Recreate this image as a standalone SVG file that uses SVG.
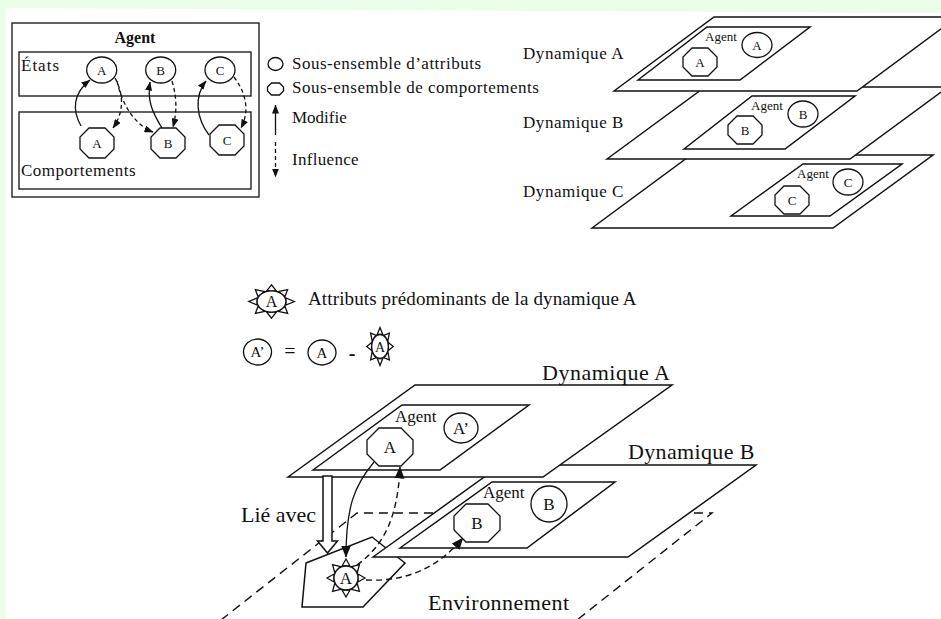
<svg xmlns="http://www.w3.org/2000/svg" xmlns:xlink="http://www.w3.org/1999/xlink" width="941" height="619" viewBox="0 0 941 619">
<defs>
<style>
.t{font-family:"Liberation Serif","Times New Roman",serif;fill:#111}
.m{text-anchor:middle}
.box{fill:none;stroke:#222;stroke-width:1.4}
.pl{fill:#fff;stroke:#111;stroke-width:1.5}
.sh{fill:#fff;stroke:#111;stroke-width:1.3}
.c{fill:none;stroke:#111;stroke-width:1.3}
.cd{fill:none;stroke:#111;stroke-width:1.3;stroke-dasharray:4 3}
.cdl{fill:none;stroke:#111;stroke-width:1.4;stroke-dasharray:6 4}
.env{fill:none;stroke:#111;stroke-width:1.4;stroke-dasharray:9 6}
</style>
<marker id="ah" viewBox="0 0 9 7" refX="8.5" refY="3.5" markerWidth="9" markerHeight="7" markerUnits="userSpaceOnUse" orient="auto"><path d="M0,0 L9,3.5 L0,7 z" fill="#111"/></marker>
<marker id="ahL" viewBox="0 0 12 10" refX="11.5" refY="5" markerWidth="12" markerHeight="10" markerUnits="userSpaceOnUse" orient="auto"><path d="M0,0 L12,5 L0,10 z" fill="#111"/></marker>
<polygon id="octS" points="-8,-15 8,-15 17,-6 17,6 8,15 -8,15 -17,6 -17,-6"/>
<polygon id="octM" points="-8,-14 8,-14 17,-5 17,5 8,14 -8,14 -17,5 -17,-5"/>
<polygon id="octL" points="-11,-19 11,-19 23,-7 23,7 11,19 -11,19 -23,7 -23,-7"/>
<polygon id="octXS" points="-4,-6 4,-6 8,-2 8,2 4,6 -4,6 -8,2 -8,-2"/>
<g id="sun" fill="#fff" stroke="#111" stroke-width="1.3">
<polygon vector-effect="non-scaling-stroke" points="19,0 12,-4 12,4"/>
<polygon vector-effect="non-scaling-stroke" points="13.4,13.4 11.3,5.6 5.6,11.3"/>
<polygon vector-effect="non-scaling-stroke" points="0,19 4,12 -4,12"/>
<polygon vector-effect="non-scaling-stroke" points="-13.4,13.4 -5.6,11.3 -11.3,5.6"/>
<polygon vector-effect="non-scaling-stroke" points="-19,0 -12,4 -12,-4"/>
<polygon vector-effect="non-scaling-stroke" points="-13.4,-13.4 -11.3,-5.6 -5.6,-11.3"/>
<polygon vector-effect="non-scaling-stroke" points="0,-19 -4,-12 4,-12"/>
<polygon vector-effect="non-scaling-stroke" points="13.4,-13.4 5.6,-11.3 11.3,-5.6"/>
<circle vector-effect="non-scaling-stroke" r="12"/>
</g>
</defs>

<rect x="0" y="0" width="941" height="619" fill="#eafde8"/>
<polygon points="6,8 941,13 941,619 6,619" fill="#fff"/>

<!-- Agent box -->
<g id="agent-box">
<rect class="box" x="12" y="23" width="247" height="174" stroke-width="1.8"/>
<text class="t m" x="135" y="43" font-size="16" font-weight="bold">Agent</text>
</g>
<g id="etats">
<rect class="box" x="19" y="52" width="232" height="44"/>
<text class="t" x="21" y="71" font-size="17" letter-spacing="1">États</text>
</g>
<g id="comportements">
<rect class="box" x="19" y="112" width="232" height="77"/>
<text class="t" x="21" y="176" font-size="17" letter-spacing="0.5">Comportements</text>
</g>
<g id="etat-A"><ellipse class="sh" cx="101.7" cy="70" rx="15" ry="13"/><text class="t m" x="101.7" y="74.5" font-size="13">A</text></g>
<g id="etat-B"><ellipse class="sh" cx="160.7" cy="70" rx="15" ry="13"/><text class="t m" x="160.7" y="74.5" font-size="13">B</text></g>
<g id="etat-C"><ellipse class="sh" cx="220" cy="70" rx="15" ry="13"/><text class="t m" x="220" y="74.5" font-size="13">C</text></g>
<g id="comp-A"><use xlink:href="#octS" href="#octS" class="sh" x="97" y="143"/><text class="t m" x="97" y="147.5" font-size="13">A</text></g>
<g id="comp-B"><use xlink:href="#octS" href="#octS" class="sh" x="168" y="143"/><text class="t m" x="168" y="147.5" font-size="13">B</text></g>
<g id="comp-C"><use xlink:href="#octS" href="#octS" class="sh" x="227" y="140"/><text class="t m" x="227" y="144.5" font-size="13">C</text></g>

<!-- Legend -->
<g id="legend-attributs">
<ellipse class="sh" cx="275.5" cy="64" rx="7.5" ry="6.5"/>
<text class="t" x="292" y="69" font-size="17" letter-spacing="0.5">Sous-ensemble d’attributs</text>
</g>
<g id="legend-comportements">
<use xlink:href="#octXS" href="#octXS" class="sh" x="275.5" y="89"/>
<text class="t" x="292" y="93" font-size="17" letter-spacing="0.5">Sous-ensemble de comportements</text>
</g>
<g id="legend-modifie">
<line class="c" x1="275.5" y1="135" x2="275.5" y2="105" marker-end="url(#ah)"/>
<text class="t" x="292" y="123" font-size="17">Modifie</text>
</g>
<g id="legend-influence">
<line class="cd" x1="275.5" y1="142" x2="275.5" y2="177" marker-end="url(#ah)"/>
<text class="t" x="292" y="165" font-size="17" letter-spacing="0.3">Influence</text>
</g>

<!-- Top right stacked dynamics -->
<g id="dyn-C">
<polygon class="pl" points="592,228 691,155 933,155 833,228"/>
<polygon class="pl" points="731,216 803,164 902,164 830,216"/>
<text class="t" x="797" y="178" font-size="13">Agent</text>
<ellipse class="sh" cx="848" cy="182" rx="15" ry="13"/><text class="t m" x="848" y="186.5" font-size="13">C</text>
<use xlink:href="#octM" href="#octM" class="sh" x="792" y="200"/><text class="t m" x="792" y="204.5" font-size="13">C</text>
</g>
<g id="dyn-B">
<polygon class="pl" points="607,159 705,87 948,87 850,159"/>
<polygon class="pl" points="684,149 752,96 855,96 785,149"/>
<text class="t" x="751" y="110" font-size="13">Agent</text>
<ellipse class="sh" cx="803" cy="114" rx="15" ry="13"/><text class="t m" x="803" y="118.5" font-size="13">B</text>
<use xlink:href="#octM" href="#octM" class="sh" x="745" y="130"/><text class="t m" x="745" y="134.5" font-size="13">B</text>
</g>
<g id="dyn-A">
<polygon class="pl" points="614,91 714,17 957,17 857,91"/>
<polygon class="pl" points="638,80 707,27 810,27 740,80"/>
<text class="t" x="705" y="41" font-size="13">Agent</text>
<ellipse class="sh" cx="757" cy="45" rx="15" ry="12.5"/><text class="t m" x="757" y="49.5" font-size="13">A</text>
<use xlink:href="#octM" href="#octM" class="sh" x="700" y="62"/><text class="t m" x="700" y="66.5" font-size="13">A</text>
</g>
<g id="dyn-labels">
<text class="t" x="523" y="59" font-size="17" letter-spacing="0.55">Dynamique A</text>
<text class="t" x="523" y="128" font-size="17" letter-spacing="0.55">Dynamique B</text>
<text class="t" x="523" y="197" font-size="17" letter-spacing="0.55">Dynamique C</text>
</g>

<!-- Middle legend -->
<g id="legend-predominant">
<use xlink:href="#sun" href="#sun" transform="translate(271.5,301.5) scale(1.2,0.88)"/>
<text class="t m" x="271.5" y="307" font-size="16">A</text>
<text class="t" x="308" y="305" font-size="19" letter-spacing="0.13">Attributs prédominants de la dynamique A</text>
</g>
<g id="legend-equation">
<ellipse class="sh" cx="257.5" cy="352" rx="14" ry="13"/><text class="t m" x="257.5" y="357" font-size="15">A’</text>
<text class="t m" x="290" y="358" font-size="20">=</text>
<ellipse class="sh" cx="322" cy="352.5" rx="14" ry="12.5"/><text class="t m" x="322" y="357.5" font-size="15">A</text>
<text class="t m" x="352" y="360" font-size="20" font-weight="bold">-</text>
<use xlink:href="#sun" href="#sun" transform="translate(380,346.5) scale(0.7,1)"/>
<text class="t m" x="380" y="351.5" font-size="14">A</text>
</g>

<!-- Bottom scene -->
<g id="environnement">
<polyline class="env" points="221,620 357,513 712,513 577,620"/>
<text class="t" x="428" y="610" font-size="22" letter-spacing="0.45">Environnement</text>
</g>
<g id="agent-env">
<polygon class="pl" points="306,563 372,537 405,563 363,607 302,607"/>
</g>
<g id="dynamique-B">
<polygon class="pl" points="373,557 501,465 756,465 628,557"/>
<polygon class="pl" points="400,548 492,482 615,482 527,548"/>
<text class="t" x="483" y="498" font-size="17">Agent</text>
<circle class="sh" cx="549" cy="504" r="18"/><text class="t m" x="549" y="510" font-size="17">B</text>
<use xlink:href="#octL" href="#octL" class="sh" x="477" y="523"/><text class="t m" x="477" y="529" font-size="17">B</text>
<text class="t" x="628" y="459" font-size="22" letter-spacing="0.35">Dynamique B</text>
</g>
<g id="dynamique-A">
<polygon class="pl" points="288,477 415,385 672,385 543,477"/>
<polygon class="pl" points="313,470 402,405 529,405 440,470"/>
<text class="t" x="395" y="422" font-size="17">Agent</text>
<ellipse class="sh" cx="461" cy="428" rx="17" ry="15"/><text class="t m" x="461" y="434" font-size="17">A’</text>
<use xlink:href="#octL" href="#octL" class="sh" x="390" y="447"/><text class="t m" x="390" y="453" font-size="17">A</text>
<text class="t" x="542" y="380" font-size="22" letter-spacing="0.5">Dynamique A</text>
</g>
<g id="attr-predominant">
<use xlink:href="#sun" href="#sun" x="346" y="578"/>
<text class="t m" x="346" y="584" font-size="17">A</text>
</g>
<g id="lie-avec">
<polygon class="pl" points="323,476 332,476 332,541 337.5,541 327.5,553 317.5,541 323,541"/>
<text class="t" x="241" y="522" font-size="22">Lié avec</text>
</g>

<!-- Connectors -->
<g id="connectors">
<path class="c" d="M81,126 C72,110 73,93 90,80" marker-end="url(#ah)"/>
<path class="cd" d="M115,78 C124,95 124,112 113,128" marker-end="url(#ah)"/>
<path class="cd" d="M117,81 C122,105 135,125 153,132" marker-end="url(#ah)"/>
<path class="c" d="M162,128 C152,112 147,100 150,82" marker-end="url(#ah)"/>
<path class="cd" d="M172,81 C177,98 177,112 173,127" marker-end="url(#ah)"/>
<path class="c" d="M209,135 C196,118 194,96 206,81" marker-end="url(#ah)"/>
<path class="cd" d="M234,77 C246,93 250,110 241,128" marker-end="url(#ah)"/>
<path class="c" d="M374,462 C355,485 346,505 346,557" marker-end="url(#ahL)"/>
<path class="cdl" d="M357,565 C385,545 398,515 400,467" marker-end="url(#ahL)"/>
<path class="cdl" d="M366,580 C410,582 440,565 463,538" marker-end="url(#ahL)"/>
</g>
</svg>
